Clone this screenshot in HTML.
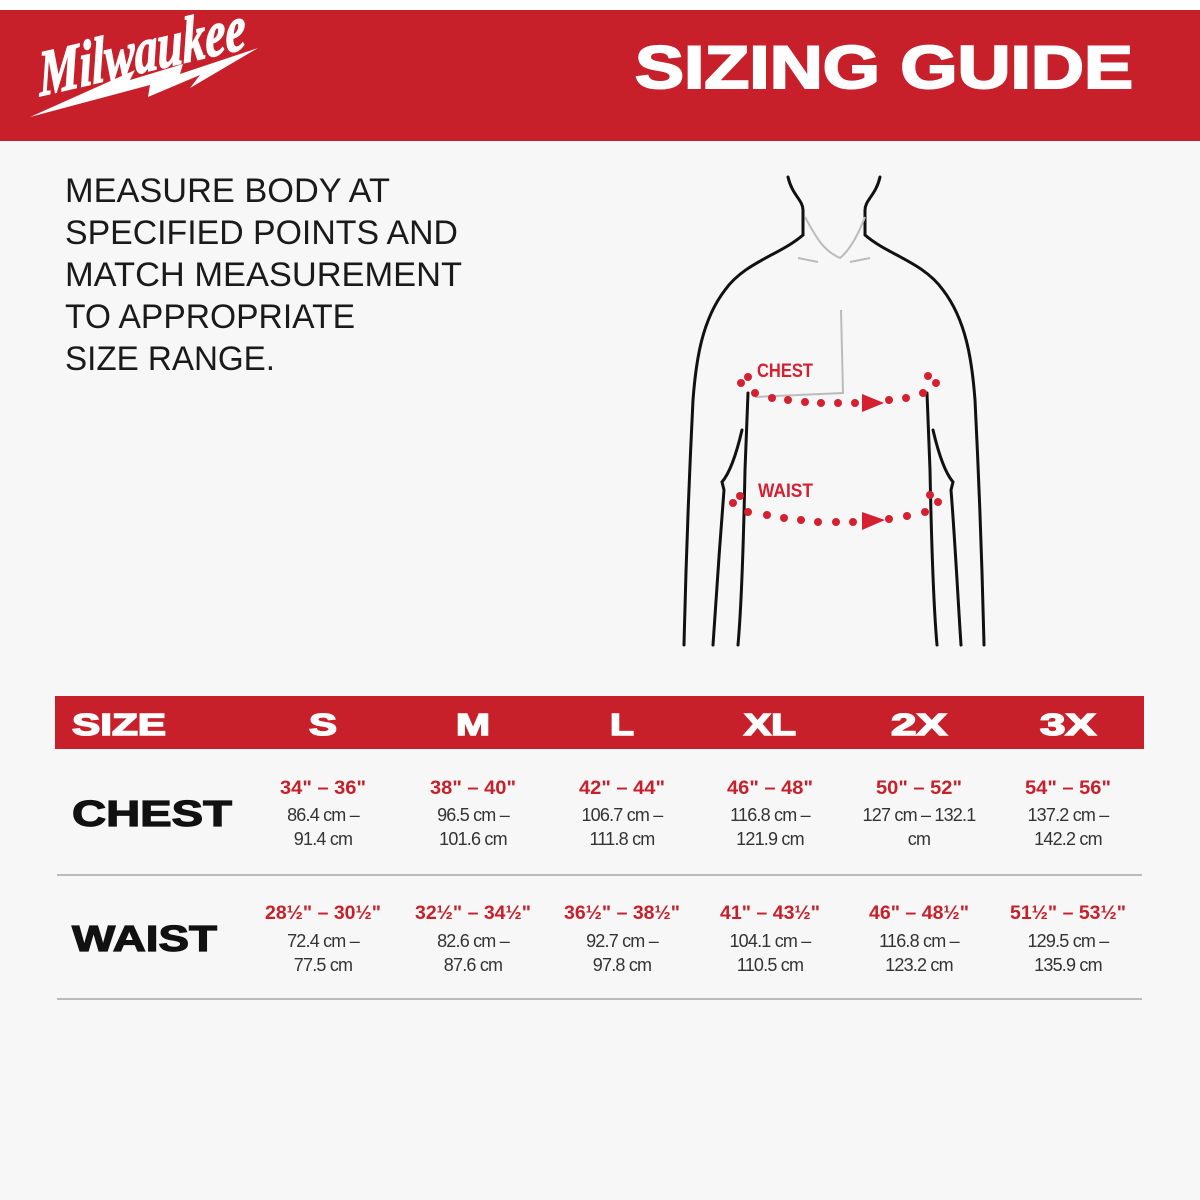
<!DOCTYPE html>
<html><head><meta charset="utf-8"><style>
html,body{margin:0;padding:0;background:#f7f7f7;}
svg{display:block}
</style></head><body>
<svg width="1200" height="1200" viewBox="0 0 1200 1200" xmlns="http://www.w3.org/2000/svg">
<rect width="1200" height="1200" fill="#f7f7f7"/>
<rect x="0" y="0" width="1200" height="10" fill="#ffffff"/>
<rect x="0" y="10" width="1200" height="131" fill="#c8202a"/>
<!-- logo -->
<text x="0" y="0" transform="translate(40,96) rotate(-13) skewX(-10)" font-family="Liberation Serif, serif" font-weight="bold" font-style="italic" font-size="64" fill="#fff" stroke="#fff" stroke-width="1.5" textLength="212" lengthAdjust="spacingAndGlyphs">Milwaukee</text>
<polygon points="30,117 150,85 148,97 200,75 190,88 258,48 180,74 183,64 130,80 135,70" fill="#fff"/>
<text x="635" y="88" font-family="Liberation Sans, sans-serif" font-weight="bold" font-size="60" fill="#fff" textLength="498" lengthAdjust="spacingAndGlyphs" stroke="#fff" stroke-width="2">SIZING GUIDE</text>
<!-- instructions -->
<g font-family="Liberation Sans, sans-serif" font-size="34" fill="#1a1a1a">
<text x="65" y="202" textLength="325" lengthAdjust="spacingAndGlyphs">MEASURE BODY AT</text>
<text x="65" y="244" textLength="393" lengthAdjust="spacingAndGlyphs">SPECIFIED POINTS AND</text>
<text x="65" y="286" textLength="397" lengthAdjust="spacingAndGlyphs">MATCH MEASUREMENT</text>
<text x="65" y="328" textLength="290" lengthAdjust="spacingAndGlyphs">TO APPROPRIATE</text>
<text x="65" y="370" textLength="210" lengthAdjust="spacingAndGlyphs">SIZE RANGE.</text>
</g>
<!-- figure -->
<g fill="none" stroke="#111" stroke-width="3" stroke-linecap="round">
<path d="M788,177 C792,195 803,200 803,210 L803,235 C780,255 745,262 725,290 C702,320 696,360 693,400 C689,480 686,560 684,645"/>
<path d="M880,177 C876,195 865,200 865,210 L865,235 C888,255 923,262 943,290 C966,320 972,360 975,400 C979,480 982,560 984,645"/>
<path d="M748,393 L745,470 C744,520 742,600 738,645"/>
<path d="M927,393 L930,470 C931,520 933,600 937,645"/>
<path d="M742,430 C735,460 728,475 722,482 L724,490 C720,540 716,600 713,645"/>
<path d="M933,430 C940,460 947,475 953,482 L951,490 C955,540 958,600 961,645"/>
</g>
<g fill="none" stroke="#bbb" stroke-width="2">
<path d="M805,217 C815,235 822,250 840,258 C850,250 858,235 865,217"/>
<path d="M798,258 L818,262 M870,258 L850,262"/>
<path d="M841,310 L843,393 L755,397"/>
</g>
<g fill="#d42030">
<circle cx="741" cy="383" r="4"/><circle cx="748" cy="377" r="4"/>
<circle cx="755" cy="393" r="4"/><circle cx="772" cy="398" r="4"/><circle cx="788" cy="400" r="4"/><circle cx="805" cy="402" r="4"/><circle cx="821" cy="403" r="4"/><circle cx="838" cy="403" r="4"/><circle cx="855" cy="403" r="4"/>
<polygon points="862,394 862,412 884,403"/>
<circle cx="889" cy="400" r="4"/><circle cx="906" cy="398" r="4"/><circle cx="923" cy="393" r="4"/>
<circle cx="928" cy="376" r="4"/><circle cx="936" cy="383" r="4"/>
<circle cx="733" cy="503" r="4"/><circle cx="740" cy="496" r="4"/>
<circle cx="748" cy="512" r="4"/><circle cx="767" cy="515" r="4"/><circle cx="784" cy="518" r="4"/><circle cx="801" cy="520" r="4"/><circle cx="818" cy="522" r="4"/><circle cx="836" cy="522" r="4"/><circle cx="853" cy="522" r="4"/>
<polygon points="862,512 862,530 885,520"/>
<circle cx="889" cy="519" r="4"/><circle cx="907" cy="516" r="4"/><circle cx="925" cy="512" r="4"/>
<circle cx="930" cy="495" r="4"/><circle cx="938" cy="502" r="4"/>
</g>
<g font-family="Liberation Sans, sans-serif" font-weight="bold" font-size="19" fill="#d42030">
<text x="757" y="377" textLength="56" lengthAdjust="spacingAndGlyphs">CHEST</text>
<text x="758" y="497" textLength="55" lengthAdjust="spacingAndGlyphs">WAIST</text>
</g>
<!-- table -->
<rect x="55" y="696" width="1089" height="53" fill="#c8202a"/>
<g font-family="Liberation Sans, sans-serif" font-weight="bold" font-size="31" fill="#fff" stroke="#fff" stroke-width="1.5" text-anchor="middle">
<text x="72" y="735" text-anchor="start" textLength="94" lengthAdjust="spacingAndGlyphs">SIZE</text>
<text x="323" y="735" textLength="28" lengthAdjust="spacingAndGlyphs">S</text>
<text x="473" y="735" textLength="34" lengthAdjust="spacingAndGlyphs">M</text>
<text x="622" y="735" textLength="24" lengthAdjust="spacingAndGlyphs">L</text>
<text x="770" y="735" textLength="52" lengthAdjust="spacingAndGlyphs">XL</text>
<text x="919" y="735" textLength="56" lengthAdjust="spacingAndGlyphs">2X</text>
<text x="1068" y="735" textLength="56" lengthAdjust="spacingAndGlyphs">3X</text>
</g>
<g font-family="Liberation Sans, sans-serif" font-weight="bold" font-size="36" fill="#111" stroke="#111" stroke-width="1.2">
<text x="72" y="826" textLength="160" lengthAdjust="spacingAndGlyphs">CHEST</text>
<text x="72" y="951" textLength="145" lengthAdjust="spacingAndGlyphs">WAIST</text>
</g>
<line x1="57" y1="875" x2="1142" y2="875" stroke="#bbb" stroke-width="2"/>
<line x1="57" y1="999" x2="1142" y2="999" stroke="#bbb" stroke-width="2"/>
<g font-family="Liberation Sans, sans-serif" font-weight="bold" font-size="19" fill="#c8202a" text-anchor="middle">
<text x="323" y="794" textLength="86" lengthAdjust="spacingAndGlyphs">34" – 36"</text>
<text x="473" y="794" textLength="86" lengthAdjust="spacingAndGlyphs">38" – 40"</text>
<text x="622" y="794" textLength="86" lengthAdjust="spacingAndGlyphs">42" – 44"</text>
<text x="770" y="794" textLength="86" lengthAdjust="spacingAndGlyphs">46" – 48"</text>
<text x="919" y="794" textLength="86" lengthAdjust="spacingAndGlyphs">50" – 52"</text>
<text x="1068" y="794" textLength="86" lengthAdjust="spacingAndGlyphs">54" – 56"</text>
<text x="323" y="919" textLength="116" lengthAdjust="spacingAndGlyphs">28½" – 30½"</text>
<text x="473" y="919" textLength="116" lengthAdjust="spacingAndGlyphs">32½" – 34½"</text>
<text x="622" y="919" textLength="116" lengthAdjust="spacingAndGlyphs">36½" – 38½"</text>
<text x="770" y="919" textLength="100" lengthAdjust="spacingAndGlyphs">41" – 43½"</text>
<text x="919" y="919" textLength="100" lengthAdjust="spacingAndGlyphs">46" – 48½"</text>
<text x="1068" y="919" textLength="116" lengthAdjust="spacingAndGlyphs">51½" – 53½"</text>
</g>
<g font-family="'Liberation Sans', sans-serif" font-size="18" letter-spacing="-0.8" fill="#333" text-anchor="middle">
<text x="323" y="821">86.4 cm –</text><text x="323" y="845">91.4 cm</text>
<text x="473" y="821">96.5 cm –</text><text x="473" y="845">101.6 cm</text>
<text x="622" y="821">106.7 cm –</text><text x="622" y="845">111.8 cm</text>
<text x="770" y="821">116.8 cm –</text><text x="770" y="845">121.9 cm</text>
<text x="919" y="821">127 cm –  132.1</text><text x="919" y="845">cm</text>
<text x="1068" y="821">137.2 cm –</text><text x="1068" y="845">142.2 cm</text>
<text x="323" y="947">72.4 cm –</text><text x="323" y="971">77.5 cm</text>
<text x="473" y="947">82.6 cm –</text><text x="473" y="971">87.6 cm</text>
<text x="622" y="947">92.7 cm –</text><text x="622" y="971">97.8 cm</text>
<text x="770" y="947">104.1 cm –</text><text x="770" y="971">110.5 cm</text>
<text x="919" y="947">116.8 cm –</text><text x="919" y="971">123.2 cm</text>
<text x="1068" y="947">129.5 cm –</text><text x="1068" y="971">135.9 cm</text>
</g>
</svg>
</body></html>
